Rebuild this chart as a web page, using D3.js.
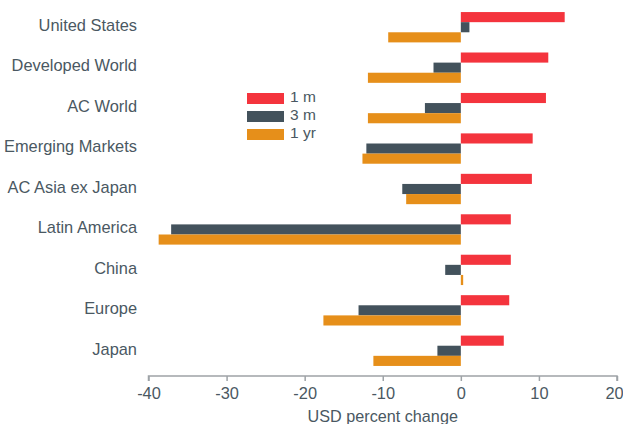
<!DOCTYPE html>
<html>
<head>
<meta charset="utf-8">
<script src="https://cdn.jsdelivr.net/npm/d3@7"></script>
<style>
  body { margin: 0; background: #fff; }
  text { font-family: "Liberation Sans", Arial, sans-serif; fill: #4a5862; }
</style>
</head>
<body>
<svg id="chart"></svg>
<script>
var categories = ["United States", "Developed World", "AC World", "Emerging Markets",
    "AC Asia ex Japan", "Latin America", "China", "Europe", "Japan"];
var seriesNames = ["1 m", "3 m", "1 yr"];
var oneMonth = [13.3, 11.2, 10.9, 9.2, 9.1, 6.4, 6.4, 6.2, 5.5];
var threeMonth = [1.1, -3.5, -4.6, -12.1, -7.5, -37.1, -2.0, -13.1, -3.0];
var oneYear = [-9.3, -11.9, -11.9, -12.6, -7.0, -38.7, 0.3, -17.6, -11.2];
var xTicks = [-40, -30, -20, -10, 0, 10, 20];

var colors = ["#f4343d", "#43525c", "#e68f1a"];
var series = [oneMonth, threeMonth, oneYear];

var settings = { width: 623, height: 424 };

var svg = d3.select("#chart")
    .attr("width", settings.width)
    .attr("height", settings.height);

var x = d3.scaleLinear().domain([-40, 20]).range([148.5, 617]);

var y = d3.scaleBand()
    .domain(categories)
    .range([7, 371])
    .paddingInner(0.25)
    .paddingOuter(0.125);

var inner = d3.scaleBand()
    .domain(seriesNames)
    .range([0, y.bandwidth()]);

// bars
var groups = svg.append("g")
    .selectAll("g")
    .data(categories)
    .enter()
    .append("g")
    .attr("transform", function (d) { return "translate(0," + y(d) + ")"; });

groups.selectAll("rect")
    .data(function (d, i) {
        return series.map(function (s, j) { return { name: seriesNames[j], value: s[i], color: colors[j] }; });
    })
    .enter()
    .append("rect")
    .attr("x", function (d) { return x(Math.min(0, d.value)); })
    .attr("width", function (d) { return Math.abs(x(d.value) - x(0)); })
    .attr("y", function (d) { return inner(d.name); })
    .attr("height", inner.bandwidth())
    .attr("fill", function (d) { return d.color; });

// category labels
svg.append("g")
    .selectAll("text")
    .data(categories)
    .enter()
    .append("text")
    .attr("x", 137)
    .attr("y", function (d) { return y(d) + y.bandwidth() / 2 - 2; })
    .attr("dy", "0.35em")
    .attr("text-anchor", "end")
    .style("font-size", "16.4px")
    .text(function (d) { return d; });

// x axis
var axis = svg.append("g")
    .attr("transform", "translate(0,376)")
    .call(d3.axisBottom(x).tickValues(xTicks).tickSize(5).tickPadding(6).tickFormat(String));
axis.selectAll("path, line").attr("stroke", "#9ea3a7").attr("stroke-width", 1.5);
axis.select(".domain").attr("d", "M" + x(-40) + ",5V0H" + x(20) + "V5");
axis.selectAll("text")
    .style("font-size", "16.4px")
    .style("font-family", "'Liberation Sans', Arial, sans-serif")
    .attr("fill", "#4a5862");
// keep the last label inside the picture
axis.selectAll(".tick text").filter(function (d) { return d === 20; }).attr("dx", -3);

svg.append("text")
    .attr("x", x(-10))
    .attr("y", 422)
    .attr("text-anchor", "middle")
    .style("font-size", "16.2px")
    .text("USD percent change");

// legend
var legend = svg.append("g")
    .selectAll("g")
    .data(seriesNames)
    .enter()
    .append("g")
    .attr("transform", function (d, i) { return "translate(247," + (93 + i * 18) + ")"; });

legend.append("rect")
    .attr("width", 37)
    .attr("height", 11)
    .attr("fill", function (d, i) { return colors[i]; });

legend.append("text")
    .attr("x", 43)
    .attr("y", 4)
    .attr("dy", "0.35em")
    .style("font-size", "15.5px")
    .text(function (d) { return d; });
</script>
</body>
</html>
